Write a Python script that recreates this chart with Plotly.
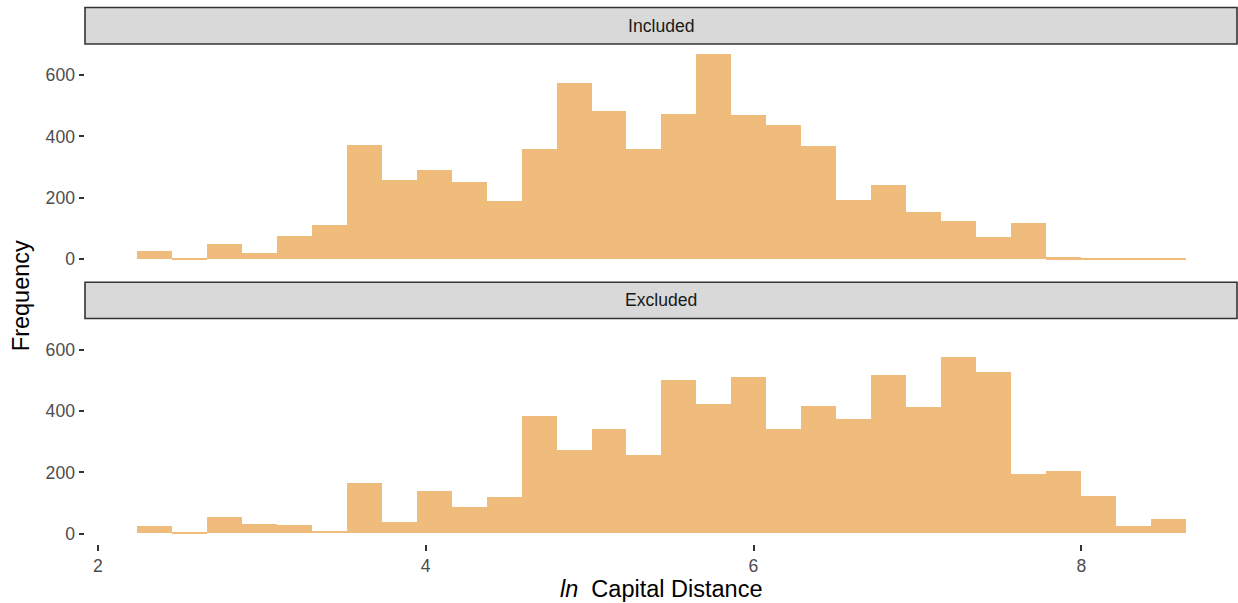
import plotly.graph_objects as go

# Histogram bins (30 bins)
bin_start = 2.24
bin_width = 0.2132
n_bins = 30

included_counts = [26, 2, 49, 20, 75, 111, 372, 258, 290, 251, 189, 359, 574, 483, 359,
                   473, 668, 470, 437, 368, 192, 241, 153, 124, 72, 117, 6, 1, 1, 1]
excluded_counts = [24, 2, 53, 30, 27, 8, 164, 37, 138, 86, 118, 383, 272, 340, 255,
                   500, 422, 510, 340, 415, 373, 516, 412, 575, 526, 193, 203, 122, 24, 47]

facet_labels = ["Included", "Excluded"]
x_ticks = [2, 4, 6, 8]
y_ticks = [0, 200, 400, 600]

centers = [bin_start + bin_width * (i + 0.5) for i in range(n_bins)]

bar_color = "#F0BC7C"
W, H = 1238, 603
t_px, b_px = 7, 603 - 543.6
plot_h = H - t_px - b_px
FONT = "Liberation Sans, Arial, sans-serif"

def py(y):
    return (543.6 - y) / plot_h

fig = go.Figure()
fig.add_trace(go.Bar(x=centers, y=included_counts, width=bin_width, marker=dict(color=bar_color, line=dict(width=0)),
                     xaxis="x", yaxis="y2", showlegend=False))
fig.add_trace(go.Bar(x=centers, y=excluded_counts, width=bin_width, marker=dict(color=bar_color, line=dict(width=0)),
                     xaxis="x", yaxis="y", showlegend=False))

tickfont = dict(family=FONT, size=17.6, color="#4D4D4D")
xrange = [1.9213, 8.950]
yrange = [-33.4, 701.4]

yax = dict(range=yrange, tickvals=y_ticks, ticks="outside", ticklen=5.5, tickwidth=1.6, tickcolor="#333333",
           tickfont=tickfont, showgrid=False, zeroline=False, showline=False, fixedrange=True)

fig.update_layout(
    width=W, height=H,
    margin=dict(l=85, r=1, t=t_px, b=b_px),
    paper_bgcolor="white", plot_bgcolor="white",
    bargap=0,
    xaxis=dict(domain=[0, 1], range=xrange, tickvals=x_ticks, ticks="outside", ticklen=5.5, tickwidth=1.6,
               tickcolor="#333333", tickfont=tickfont, showgrid=False, zeroline=False, showline=False,
               anchor="y"),
    yaxis=dict(domain=[0, py(318.2)], anchor="x", **yax),
    yaxis2=dict(domain=[py(269.2), py(43.9)], anchor="x", **yax),
)

# facet strips
strips = [(py(43.9), py(7.5), facet_labels[0]), (py(318.2), py(282.0), facet_labels[1])]
for y0, y1, lab in strips:
    fig.add_shape(type="rect", xref="paper", yref="paper", x0=0, x1=1, y0=y0, y1=y1,
                  fillcolor="#D9D9D9", line=dict(color="#333333", width=1.6), layer="above")
    fig.add_annotation(text=lab, xref="paper", yref="paper", x=0.5, y=(y0 + y1) / 2, showarrow=False,
                       xanchor="center", yanchor="middle",
                       font=dict(family=FONT, size=17.6, color="#1A1A1A"))

# axis titles
fig.add_annotation(text="<i>ln</i>\u00a0\u00a0Capital Distance", xref="paper", yref="paper",
                   x=0.5, y=py(589), showarrow=False, xanchor="center", yanchor="middle",
                   font=dict(family=FONT, size=23.5, color="#000000"))
fig.add_annotation(text="Frequency", xref="paper", yref="paper", x=(21 - 85) / (W - 86), y=py(296),
                   showarrow=False, textangle=-90, xanchor="center", yanchor="middle",
                   font=dict(family=FONT, size=23.5, color="#000000"))

fig.write_html("out.html", config={"displayModeBar": False},
               post_script="document.body.style.margin='0';")
